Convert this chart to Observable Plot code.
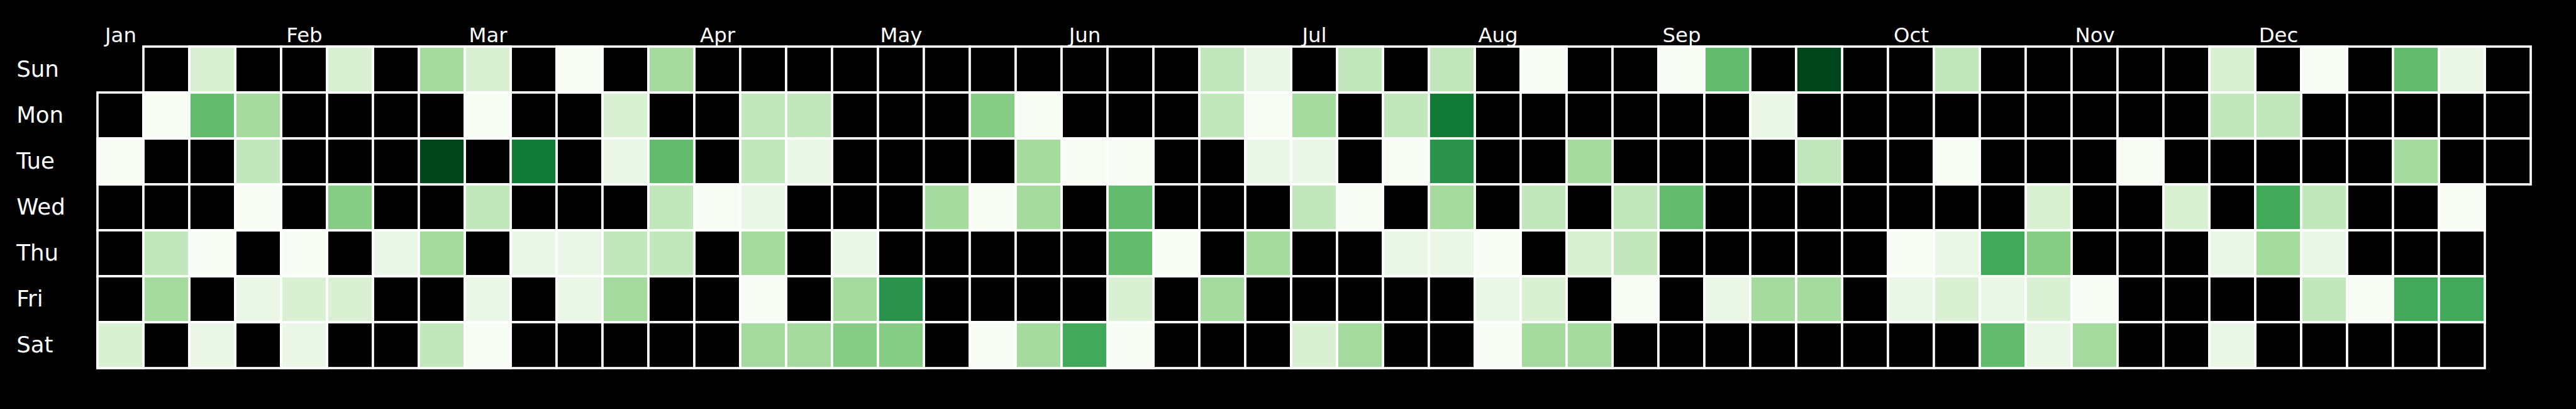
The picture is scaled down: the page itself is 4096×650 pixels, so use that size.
<!DOCTYPE html>
<html>
<head>
<meta charset="utf-8">
<script src="https://cdn.jsdelivr.net/npm/d3@7"></script>
<script src="https://cdn.jsdelivr.net/npm/@observablehq/plot@0.6"></script>
<style>
  html, body { margin: 0; padding: 0; background: #000; }
  #chart svg { display: block; }
</style>
</head>
<body>
<div id="chart"></div>
<script>
const _ = null;
// Values per weekday row, one entry per week column (0..52) of 2024; null = no data
const sun = [_,_,2,_,_,2,_,4,2,_,0,_,4,_,_,_,_,_,_,_,_,_,_,_,3,1,_,3,_,3,_,0,_,_,0,6,_,10,_,_,3,_,_,_,_,_,2,_,0,_,6,1,_];
const mon = [_,0,6,4,_,_,_,_,0,_,_,2,_,_,3,3,_,_,_,5,0,_,_,_,3,0,4,_,3,9,_,_,_,_,_,_,1,_,_,_,_,_,_,_,_,_,3,3,_,_,_,_,_];
const tue = [0,_,_,3,_,_,_,10,_,9,_,1,6,_,3,1,_,_,_,_,4,0,0,_,_,1,1,_,0,8,_,_,4,_,_,_,_,3,_,_,0,_,_,_,0,_,_,_,_,_,4,_,_];
const wed = [_,_,_,0,_,5,_,_,3,_,_,_,3,0,1,_,_,_,4,0,4,_,6,_,_,_,3,0,_,4,_,3,_,3,6,_,_,_,_,_,_,_,2,_,_,2,_,7,3,_,_,0,_];
const thu = [_,3,0,_,0,_,1,4,_,1,1,3,3,_,4,_,1,_,_,_,_,_,6,0,_,4,_,_,1,1,0,_,2,3,_,_,_,_,_,0,1,7,5,_,_,_,1,4,1,_,_,_,_];
const fri = [_,4,_,1,2,2,_,_,1,_,1,4,_,_,0,_,4,8,_,_,_,_,2,_,4,_,_,_,_,_,1,2,_,0,_,1,4,4,_,1,2,1,2,0,_,_,_,_,3,0,7,7,_];
const sat = [2,_,1,_,1,_,_,3,0,_,_,_,_,_,4,4,5,5,_,0,4,7,0,_,_,_,2,4,_,_,0,4,4,_,_,_,_,_,_,_,_,6,1,4,_,_,1,_,_,_,_,_,_];

const dayNames = ["Sun", "Mon", "Tue", "Wed", "Thu", "Fri", "Sat"];
const monthNames = ["Jan","Feb","Mar","Apr","May","Jun","Jul","Aug","Sep","Oct","Nov","Dec"];
const monthWeeks = [0, 4, 8, 13, 17, 21, 26, 30, 34, 39, 43, 47];
const levels = [0,1,2,3,4,5,6,7,8,9,10];
const palette = ["#f7fcf5","#eaf6e6","#d9f0d3","#c3e7bc","#a5db9f","#86cc85","#63bb6d","#42a95b","#2a924a","#107a37","#00441b"];

const rows = [sun, mon, tue, wed, thu, fri, sat];
const year = 2024;
const days = d3.utcDays(new Date(Date.UTC(year, 0, 1)), new Date(Date.UTC(year + 1, 0, 1))).map(d => {
  const week = d3.utcSunday.count(d3.utcYear(d), d);
  const day = d.getUTCDay();
  return {date: d, week, day, value: rows[day][week]};
});
const withValues = days.filter(d => d.value != null);
const months = monthNames.map((name, i) => ({name, week: monthWeeks[i]}));
const dayLabels = dayNames.map((name, i) => ({name, day: i}));

const s = 0.912;
const chart = Plot.plot({
  width: 4096,
  height: 650,
  marginLeft: 142.7,
  marginRight: 59.8,
  marginTop: 72.5,
  marginBottom: 64.5,
  style: {background: "#000", color: "#fff", fontFamily: "DejaVu Sans"},
  x: {type: "band", domain: d3.range(53), padding: 0, axis: null},
  y: {type: "band", domain: d3.range(7), padding: 0, axis: null},
  color: {type: "ordinal", domain: levels, range: palette},
  marks: [
    Plot.cell(days, {x: "week", y: "day", fill: "#000", stroke: "#fff", strokeWidth: 4 * s, inset: 0}),
    Plot.cell(withValues, {x: "week", y: "day", fill: "value", stroke: "#fff", strokeWidth: 4 * s, inset: 0}),
    Plot.text(months, {x: "week", text: "name", frameAnchor: "top", dy: -29.2, fill: "#fff", fontSize: 35.5 * s, textAnchor: "middle"}),
    Plot.text(dayLabels, {y: "day", text: "name", frameAnchor: "left", dx: -117, textAnchor: "start", fill: "#fff", fontSize: 39 * s})
  ]
});
document.getElementById("chart").append(chart);
</script>
</body>
</html>
